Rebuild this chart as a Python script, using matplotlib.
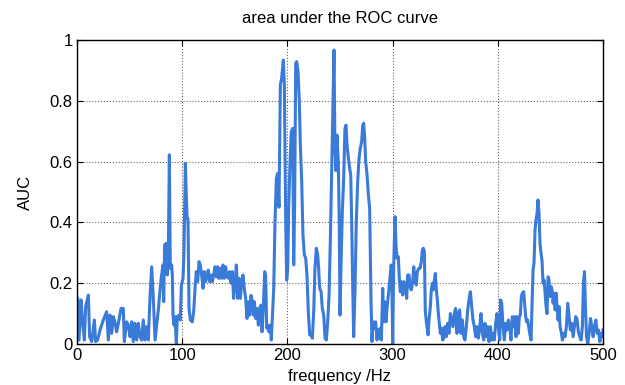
"""
Area under the ROC curve across frequency, MATLAB-style line plot.
"""
import matplotlib
matplotlib.use("Agg")
import matplotlib.pyplot as plt

# frequency samples (Hz)
freq_hz = [
    0.6, 1.9, 3.8, 5.1, 7.0, 8.2, 10.8, 12.0, 14.0, 16.5, 17.7, 19.6, 21.9, 25.0,
    28.2, 29.8, 31.4, 33.0, 34.5, 36.0, 37.7, 39.3, 41.8, 44.0, 45.0, 47.2, 48.8,
    50.4, 52.0, 53.5, 55.1, 56.7, 58.3, 59.9, 61.5, 63.0, 64.6, 66.2, 67.8, 69.4,
    71.0, 72.6, 74.2, 75.7, 77.3, 79.8,
    81.7, 82.4, 83.3, 84.9, 85.9, 86.8, 87.8, 88.7, 90.0, 90.6, 91.3, 92.2, 93.2,
    94.4, 95.4, 97.0, 98.2, 99.2, 100.8, 101.7, 103.0, 104.6, 105.5, 106.5, 107.7,
    109.6, 110.9, 112.2, 113.4, 114.7, 116.0, 117.2, 118.5, 119.8, 121.0, 122.3,
    123.6, 124.8, 126.1, 127.4, 128.6, 129.9, 131.2, 132.4, 133.7, 134.9, 136.3,
    137.5, 138.8, 140.0, 141.3, 142.6, 143.9, 145.1, 146.4, 147.6, 148.9, 150.2,
    151.5, 152.7, 154.0, 155.3, 156.5, 157.8, 159.0, 160.3, 161.6, 162.9, 164.1,
    165.4, 166.7, 167.6, 168.6, 169.8, 171.1, 172.4, 173.6, 174.9, 175.9, 177.1,
    178.4, 179.3, 180.3, 181.2, 182.5, 183.8, 184.7, 185.7, 187.0, 188.2, 189.5,
    190.7, 192.0, 193.3, 194.5, 196.1, 197.1, 198.4, 199.3, 200.3, 201.2, 202.5,
    203.7, 205.0, 206.0, 206.9, 207.9, 208.8, 210.1, 211.3, 212.3, 213.6, 214.8,
    216.1, 217.4, 218.6, 219.9, 221.2, 222.4, 223.7, 225.0, 226.2, 227.5, 228.8,
    229.7, 230.7, 232.0, 233.2, 234.5, 235.8, 237.0, 238.3, 239.6, 240.8, 242.1,
    243.3, 244.3, 245.2, 246.2, 247.1, 248.4,
    249.3, 250.0, 250.9, 252.2, 253.5, 254.7, 255.7, 256.7, 258.0, 259.2, 260.2,
    261.1, 262.0, 263.0, 264.3, 265.5, 266.8, 268.1, 269.3, 270.6, 271.6, 272.5,
    273.5, 274.4, 275.7, 277.0, 278.2, 278.9, 279.5, 280.4, 281.4, 282.7, 283.9,
    285.2, 286.1, 287.1, 288.3, 289.3, 290.6, 291.5, 292.5, 293.7, 294.7, 296.0,
    297.2, 298.6, 299.1, 300.1, 301.0, 302.3, 303.2, 304.2, 305.4, 306.4, 307.3,
    308.3, 309.6, 310.8, 312.1, 313.4, 314.3, 315.6, 316.9, 317.8, 319.1, 320.1,
    321.3, 322.6, 323.5, 324.8, 326.1, 327.3, 328.3, 329.2, 330.2, 331.1, 332.1,
    333.7, 334.6, 335.9, 336.8, 337.8, 338.7, 339.7, 340.6, 341.6, 342.5, 343.5,
    344.4, 345.4, 346.6, 347.6, 348.5, 349.8, 351.0, 352.3, 353.6, 354.9, 356.1,
    357.4, 358.7, 359.9, 361.2, 362.5, 363.7, 365.0, 366.3, 367.6, 368.8, 370.1,
    371.4, 372.6, 373.9, 375.2, 376.4, 377.7, 379.0, 380.2, 381.5, 382.8, 384.0,
    385.3, 386.6, 387.8, 389.1, 390.4, 391.6, 392.9, 394.2, 395.4, 396.7, 398.0,
    399.2, 400.5, 401.8, 402.7, 403.7, 405.0, 406.2, 407.5, 408.7, 410.0, 411.3,
    412.5, 413.8, 415.1,
    416.3, 417.3, 418.3, 419.5, 420.5, 421.4, 422.4, 423.3, 424.6, 425.5, 426.5,
    427.4, 428.4, 429.3, 430.3, 431.6, 432.5, 433.5, 434.4, 435.4, 436.3, 437.3,
    438.2, 439.2, 440.1, 441.1, 442.0, 443.0, 444.0, 444.9, 445.9, 446.8, 447.8,
    448.7, 449.7, 450.6, 451.6, 452.6, 453.5, 454.5, 455.4, 456.4, 457.3, 458.3,
    459.2, 460.5, 461.4, 462.7, 463.9, 465.2, 466.5, 467.8, 469.0, 470.3, 471.6,
    472.8, 474.1, 475.4, 476.6, 477.9, 479.2, 480.4, 481.4, 482.4, 483.3, 484.3,
    485.6, 486.8, 488.1, 489.4, 490.6, 491.9, 493.2, 494.5, 495.7, 497.0, 498.3,
    499.5, 500.0,
]

# AUC values at each frequency
auc = [
    0.150, 0.013, 0.145, 0.079, 0.013, 0.123, 0.161, 0.024, 0.008, 0.079, 0.008,
    0.013, 0.046, 0.079, 0.106, 0.013, 0.095, 0.035, 0.090, 0.073, 0.040, 0.068,
    0.117, 0.117, 0.008, 0.073, 0.062, 0.024, 0.073, 0.008, 0.068, 0.013, 0.068,
    0.024, 0.013, 0.079, 0.013, 0.057, 0.013, 0.156, 0.254, 0.145, 0.013, 0.062,
    0.112, 0.210,
    0.260, 0.139, 0.326, 0.331, 0.227, 0.304, 0.622, 0.249, 0.260, 0.227, 0.095,
    0.062, 0.090, 0.002, 0.090, 0.095, 0.079, 0.194, 0.216, 0.304, 0.594, 0.413,
    0.413, 0.117, 0.079, 0.073, 0.106, 0.183, 0.238, 0.205, 0.271, 0.260, 0.227,
    0.183, 0.238, 0.205, 0.227, 0.243, 0.205, 0.227, 0.205, 0.227, 0.254, 0.221,
    0.254, 0.216, 0.249, 0.216, 0.260, 0.216, 0.254, 0.221, 0.216, 0.238, 0.200,
    0.238, 0.150, 0.200, 0.260, 0.150, 0.216, 0.150, 0.205, 0.227, 0.183, 0.150,
    0.084, 0.139, 0.095,
    0.160, 0.139, 0.095, 0.139, 0.084, 0.117, 0.062, 0.117, 0.128, 0.040, 0.117,
    0.238, 0.227, 0.052, 0.062, 0.040, 0.062, 0.013, 0.084, 0.183, 0.400, 0.545,
    0.561, 0.450, 0.852, 0.874, 0.934, 0.852, 0.400, 0.210, 0.249, 0.446, 0.600,
    0.698, 0.709, 0.260, 0.468, 0.923, 0.929, 0.896, 0.797, 0.655, 0.534, 0.359,
    0.293, 0.282, 0.227, 0.106, 0.030, 0.030, 0.019, 0.106, 0.249, 0.315, 0.293,
    0.249, 0.183, 0.172, 0.117, 0.095, 0.019, 0.013, 0.073, 0.161, 0.337, 0.567,
    0.775, 0.967, 0.640, 0.570, 0.687, 0.600,
    0.400, 0.095, 0.249, 0.435, 0.545, 0.709, 0.720, 0.655, 0.611, 0.578, 0.556,
    0.403, 0.205, 0.024, 0.183, 0.403, 0.534, 0.611, 0.644, 0.666, 0.720, 0.726,
    0.676, 0.600, 0.556, 0.490, 0.446, 0.271, 0.139, 0.008, 0.073, 0.052, 0.073,
    0.013, 0.046, 0.019, 0.052, 0.013, 0.183, 0.073, 0.139, 0.073, 0.117, 0.161,
    0.205, 0.260, 0.249, 0.002, 0.249, 0.419, 0.326, 0.282, 0.287, 0.216, 0.172,
    0.205, 0.161, 0.205, 0.194, 0.150, 0.227, 0.227, 0.183, 0.178, 0.205, 0.254,
    0.205, 0.194, 0.238, 0.249, 0.249, 0.271, 0.309, 0.315, 0.304, 0.106, 0.073,
    0.030, 0.079, 0.123, 0.178, 0.200, 0.178, 0.210, 0.232, 0.178, 0.145, 0.100,
    0.068, 0.035, 0.052, 0.013, 0.019, 0.057, 0.024, 0.068, 0.035, 0.100, 0.079,
    0.057, 0.100, 0.117, 0.035, 0.100, 0.112, 0.035, 0.079, 0.024, 0.013, 0.057,
    0.112, 0.145, 0.172, 0.123, 0.079, 0.057, 0.024, 0.057, 0.019, 0.057, 0.100,
    0.035, 0.013, 0.068, 0.024, 0.057, 0.008, 0.057, 0.013, 0.035, 0.013, 0.068,
    0.100, 0.057, 0.013, 0.145, 0.134, 0.057, 0.013, 0.068, 0.046, 0.079, 0.057,
    0.013, 0.090, 0.057,
    0.090, 0.024, 0.090, 0.035, 0.090, 0.095, 0.156, 0.167, 0.172, 0.134, 0.090,
    0.073, 0.079, 0.057, 0.035, 0.013, 0.123, 0.243, 0.265, 0.375, 0.408, 0.430,
    0.474, 0.430, 0.331, 0.298, 0.276, 0.200, 0.210, 0.167, 0.123, 0.100, 0.221,
    0.210, 0.156, 0.189, 0.178, 0.134, 0.167, 0.112, 0.167, 0.123, 0.079, 0.123,
    0.057, 0.035, 0.013, 0.035, 0.024, 0.057, 0.134, 0.090, 0.046, 0.068, 0.024,
    0.057, 0.090, 0.079, 0.040, 0.024, 0.013, 0.057, 0.200, 0.238, 0.123, 0.024,
    0.002, 0.035, 0.084, 0.057, 0.024, 0.057, 0.079, 0.035, 0.046, 0.008, 0.035,
    0.024, 0.046,
]

x_ticks = [0, 100, 200, 300, 400, 500]
y_ticks = [0, 0.2, 0.4, 0.6, 0.8, 1]
y_tick_labels = ["0", "0.2", "0.4", "0.6", "0.8", "1"]


def plot_auc():
    """Draw the AUC-vs-frequency line and save it as out.png."""
    plt.rcParams["font.family"] = ["Liberation Sans", "DejaVu Sans"]
    plt.rcParams["font.size"] = 12

    fig = plt.figure(figsize=(6.25, 3.85), dpi=100)
    ax = fig.add_axes([0.1232, 0.1065, 0.8416, 0.7896])

    ax.plot(freq_hz, auc, color="#3a7ad8", linewidth=2.2, solid_joinstyle="round")

    ax.set_xlim(0, 500)
    ax.set_ylim(0, 1)
    ax.set_xticks(x_ticks)
    ax.set_yticks(y_ticks)
    ax.set_yticklabels(y_tick_labels)
    ax.tick_params(direction="in", top=True, right=True, length=4, width=0.8,
                   labelsize=12, pad=3)
    ax.grid(True, linestyle=":", color="#666666", linewidth=0.8)
    for spine in ax.spines.values():
        spine.set_linewidth(1.0)

    ax.set_title("area under the ROC curve", fontsize=12, pad=12)
    ax.set_xlabel("frequency /Hz", fontsize=12, labelpad=4)
    ax.set_ylabel("AUC", fontsize=12, labelpad=12)

    fig.savefig("out.png", dpi=100)


if __name__ == "__main__":
    plot_auc()
